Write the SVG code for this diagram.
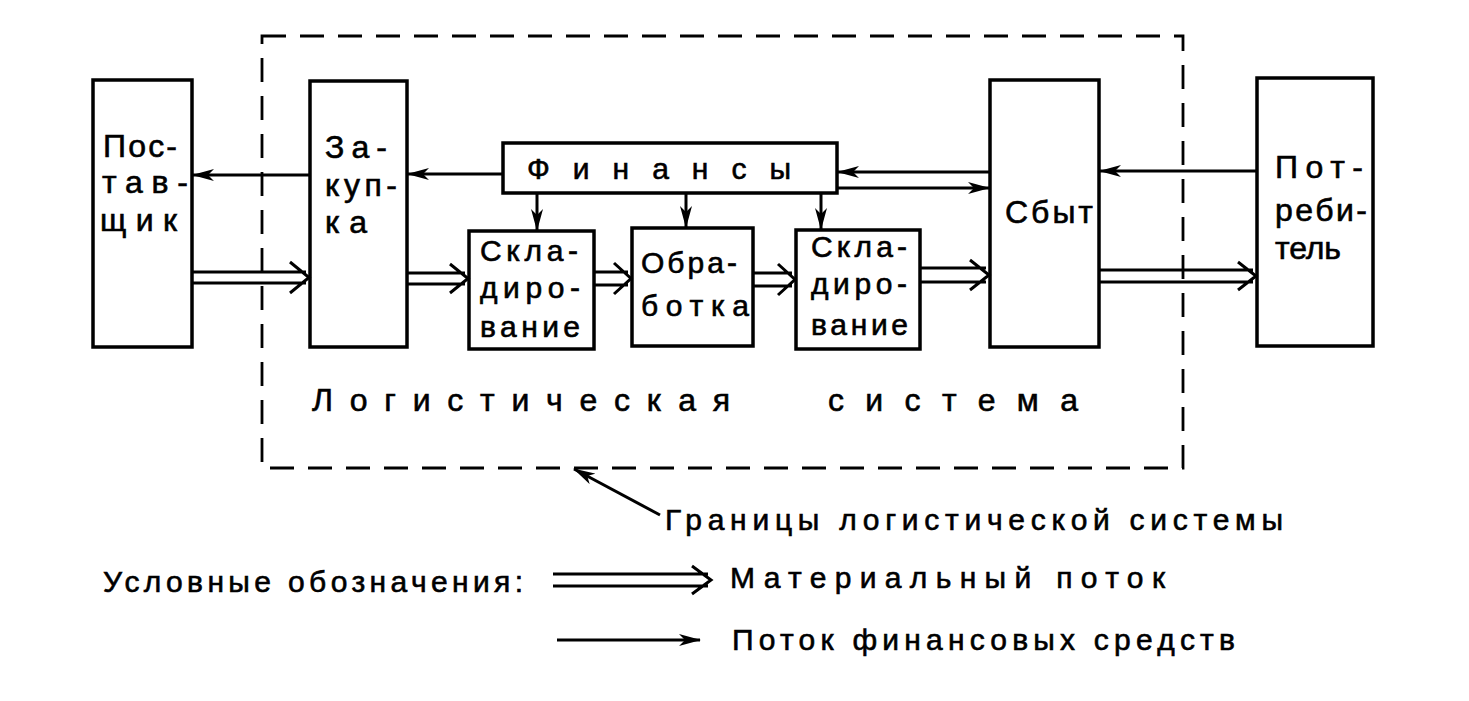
<svg xmlns="http://www.w3.org/2000/svg" width="1469" height="701" viewBox="0 0 1469 701">
<style>
  .box{fill:#fff;stroke:#000;stroke-width:3.5}
  .lbl{font-family:"Liberation Sans","DejaVu Sans",sans-serif;font-size:32px;fill:#000;stroke:#000;stroke-width:0.6}
  .sm{font-family:"Liberation Sans","DejaVu Sans",sans-serif;font-size:30px;fill:#000;stroke:#000;stroke-width:0.6}
  .fin{fill:none;stroke:#000;stroke-width:3}
  .mat{fill:none;stroke:#000;stroke-width:3}
  .bound{fill:none;stroke:#000;stroke-width:2.8;stroke-dasharray:24 14}
</style>
<defs>
  <marker id="fa" viewBox="0 0 22 12" refX="21" refY="6" markerWidth="22" markerHeight="12" markerUnits="userSpaceOnUse" orient="auto">
    <path d="M0,0 L22,6 L0,12 L6,6 Z" fill="#000"/>
  </marker>
</defs>

<rect class="bound" x="262" y="36" width="921" height="432"/>

<g id="postavshik">
  <rect class="box" x="93" y="80" width="99" height="267"/>
  <text class="lbl" x="103" y="157" textLength="74">Пос-</text>
  <text class="lbl" x="102" y="193" textLength="86">тав-</text>
  <text class="lbl" x="100" y="231" textLength="77">щик</text>
</g>
<g id="zakupka">
  <rect class="box" x="310" y="81" width="97" height="266"/>
  <text class="lbl" x="325" y="158" textLength="62">За-</text>
  <text class="lbl" x="325" y="196" textLength="72">куп-</text>
  <text class="lbl" x="325" y="233" textLength="42">ка</text>
</g>
<g id="finansy">
  <rect class="box" x="503" y="143" width="334" height="50"/>
  <text class="sm" x="527" y="179" textLength="264">Финансы</text>
</g>
<g id="sklad1">
  <rect class="box" x="469" y="231" width="125" height="118"/>
  <text class="sm" x="480" y="261" textLength="98">Скла-</text>
  <text class="sm" x="480" y="298" textLength="100">диро-</text>
  <text class="sm" x="480" y="337" textLength="100">вание</text>
</g>
<g id="obrabotka">
  <rect class="box" x="632" y="228" width="121" height="118"/>
  <text class="sm" x="641" y="273" textLength="96">Обра-</text>
  <text class="sm" x="641" y="316" textLength="108">ботка</text>
</g>
<g id="sklad2">
  <rect class="box" x="796" y="230" width="124" height="119"/>
  <text class="sm" x="811" y="257" textLength="96">Скла-</text>
  <text class="sm" x="811" y="294" textLength="96">диро-</text>
  <text class="sm" x="811" y="335" textLength="97">вание</text>
</g>
<g id="sbyt">
  <rect class="box" x="990" y="80" width="109" height="267"/>
  <text class="lbl" x="1005" y="223" textLength="88">Сбыт</text>
</g>
<g id="potrebitel">
  <rect class="box" x="1257" y="78" width="116" height="268"/>
  <text class="lbl" x="1275" y="178" textLength="88">Пот-</text>
  <text class="lbl" x="1275" y="221" textLength="92">реби-</text>
  <text class="lbl" x="1275" y="259" textLength="66">тель</text>
</g>

<g id="connectors">
  <!-- financial flows -->
  <line class="fin" x1="310" y1="175" x2="193" y2="175" marker-end="url(#fa)"/>
  <line class="fin" x1="503" y1="174" x2="408" y2="174" marker-end="url(#fa)"/>
  <line class="fin" x1="990" y1="172" x2="838" y2="172" marker-end="url(#fa)"/>
  <line class="fin" x1="837" y1="188" x2="989" y2="188" marker-end="url(#fa)"/>
  <line class="fin" x1="1257" y1="171" x2="1100" y2="171" marker-end="url(#fa)"/>
  <line class="fin" x1="537" y1="193" x2="537" y2="230" marker-end="url(#fa)"/>
  <line class="fin" x1="686" y1="193" x2="686" y2="227" marker-end="url(#fa)"/>
  <line class="fin" x1="821" y1="193" x2="821" y2="229" marker-end="url(#fa)"/>
  <!-- material flows -->
  <path class="mat" d="M192,272 H306 M192,283 H306 M290,262 L309,277.5 L290,293"/>
  <path class="mat" d="M407,273 H465 M407,284 H465 M450,264 L468,278.5 L450,293"/>
  <path class="mat" d="M594,272 H628 M594,285 H628 M614,263 L631,278.5 L614,294"/>
  <path class="mat" d="M753,273 H792 M753,286 H792 M778,264 L795,279.5 L778,295"/>
  <path class="mat" d="M920,268 H986 M920,282 H986 M970,260 L989,275 L970,290"/>
  <path class="mat" d="M1099,270 H1253 M1099,282 H1253 M1238,262 L1256,276 L1238,290"/>
  <!-- boundary pointer -->
  <line class="fin" x1="660" y1="515" x2="574" y2="469" stroke-width="2.5" marker-end="url(#fa)"/>
</g>

<text class="lbl" x="312" y="411" textLength="418">Логистическая</text>
<text class="lbl" x="828" y="411" textLength="250">система</text>

<text class="sm" x="665" y="530" textLength="618">Границы логистической системы</text>

<g id="legend">
  <text class="sm" x="103" y="592" textLength="420">Условные обозначения:</text>
  <path class="mat" d="M553,574 H708 M553,586 H708 M692,566 L711,580 L692,594"/>
  <text class="sm" x="730" y="588" textLength="435">Материальный поток</text>
  <line class="fin" x1="557" y1="640" x2="700" y2="640" stroke-width="2.5" marker-end="url(#fa)"/>
  <text class="sm" x="732" y="650" textLength="503">Поток финансовых средств</text>
</g>
</svg>
